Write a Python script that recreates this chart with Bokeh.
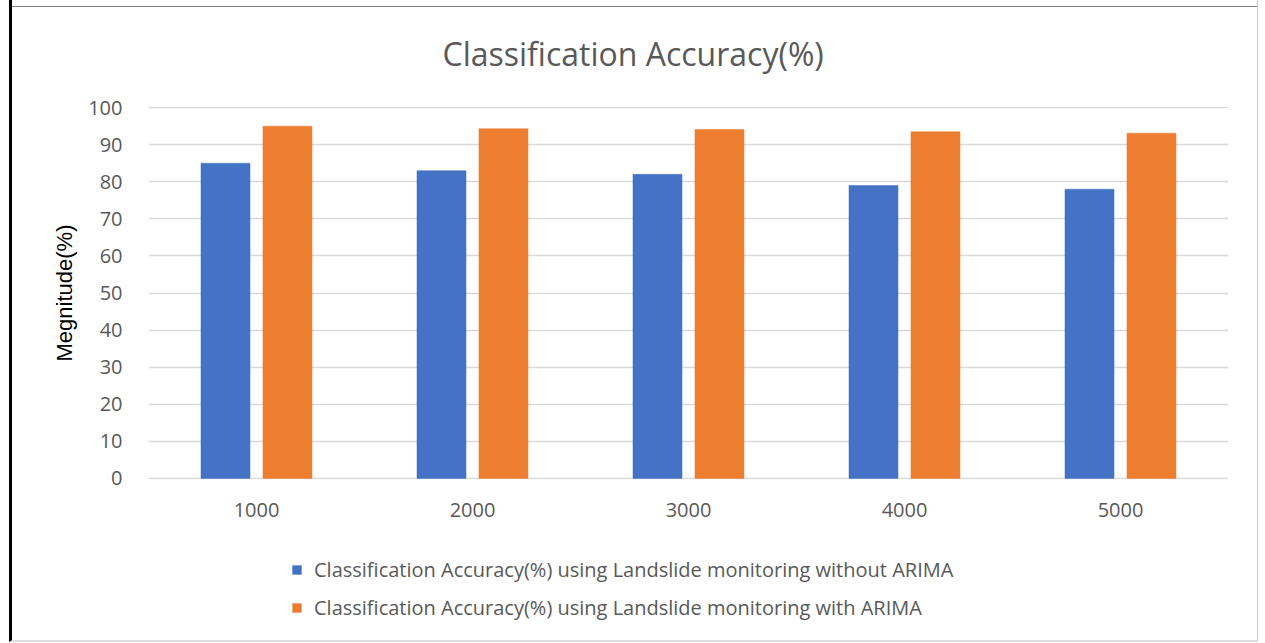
from bokeh.plotting import figure
from bokeh.models import FactorRange, Range1d, FixedTicker, Legend, LegendItem, ColumnDataSource
from bokeh.layouts import column
from bokeh.transform import dodge
from bokeh.embed import file_html
from bokeh.resources import INLINE

categories = ["1000", "2000", "3000", "4000", "5000"]
without_arima = [85, 83, 82, 79, 78]
with_arima = [95, 94.3, 94.1, 93.5, 93.1]
y_ticks = [0, 10, 20, 30, 40, 50, 60, 70, 80, 90, 100]
title_text = "Classification Accuracy(%)"
y_label = "Megnitude(%)"
series_names = [
    "Classification Accuracy(%) using Landslide monitoring without ARIMA",
    "Classification Accuracy(%) using Landslide monitoring with ARIMA",
]

BLUE = "#4472C4"
ORANGE = "#ED7D31"
GREY = "#595959"

src = ColumnDataSource(dict(cat=categories, a=without_arima, b=with_arima))
xr = FactorRange(factors=categories, range_padding=0)

# ---------------- main chart ----------------
p = figure(
    x_range=xr,
    y_range=Range1d(-0.3, 100.3),
    frame_width=1080, frame_height=373,
    min_border_left=136, min_border_right=29,
    min_border_top=106, min_border_bottom=55,
    output_backend="svg", toolbar_location=None,
    background_fill_color="white", border_fill_alpha=0,
)
p.outline_line_color = None

p.vbar(x=dodge("cat", -0.1435, range=xr), top="a", bottom=0, width=0.227,
       source=src, fill_color=BLUE, line_color=BLUE, line_width=0.5)
p.vbar(x=dodge("cat", 0.1435, range=xr), top="b", bottom=0, width=0.227,
       source=src, fill_color=ORANGE, line_color=ORANGE, line_width=0.5)

p.title.text = title_text
p.title.align = "left"
p.title.offset = 294
p.title.vertical_align = "top"
p.title.standoff = 60
p.title.text_font = "Open Sans"
p.title.text_font_size = "32px"
p.title.text_font_style = "normal"
p.title.text_color = GREY

p.xgrid.grid_line_color = None
p.ygrid.grid_line_color = "#D9D9D9"
p.ygrid.grid_line_width = 1.5
p.ygrid.ticker = FixedTicker(ticks=y_ticks)

p.yaxis.ticker = FixedTicker(ticks=y_ticks)
p.yaxis.axis_line_color = None
p.yaxis.major_tick_line_color = None
p.yaxis.minor_tick_line_color = None
p.yaxis.major_label_text_font = "Open Sans"
p.yaxis.major_label_text_font_size = "20px"
p.yaxis.major_label_text_color = GREY
p.yaxis.major_label_standoff = 20
p.yaxis.axis_label = y_label
p.yaxis.axis_label_text_font = "Liberation Sans"
p.yaxis.axis_label_text_font_size = "22px"
p.yaxis.axis_label_text_font_style = "normal"
p.yaxis.axis_label_text_color = "#000000"
p.yaxis.axis_label_standoff = 8

p.xaxis.axis_line_color = None
p.xaxis.major_tick_line_color = None
p.xaxis.minor_tick_line_color = None
p.xaxis.major_label_text_font = "Open Sans"
p.xaxis.major_label_text_font_size = "20px"
p.xaxis.major_label_text_color = GREY
p.xaxis.major_label_standoff = 17

# ---------------- legend strip ----------------
# same series drawn into a y window that hides the bars; only the legend shows
p2 = figure(
    width=1245, height=106,
    x_range=xr, y_range=Range1d(200, 300),
    min_border=0, x_axis_location=None, y_axis_location=None,
    output_backend="svg", toolbar_location=None,
    background_fill_alpha=0, border_fill_alpha=0,
)
p2.outline_line_color = None
p2.xgrid.visible = False
p2.ygrid.visible = False
lr1 = p2.vbar(x=dodge("cat", -0.1435, range=xr), top="a", bottom=0, width=0.227,
              source=src, fill_color=BLUE, line_color=BLUE, line_width=0.5)
lr2 = p2.vbar(x=dodge("cat", 0.1435, range=xr), top="b", bottom=0, width=0.227,
              source=src, fill_color=ORANGE, line_color=ORANGE, line_width=0.5)

legend = Legend(
    items=[LegendItem(label=series_names[0], renderers=[lr1]),
           LegendItem(label=series_names[1], renderers=[lr2])],
    location=(143, 19),
    orientation="vertical",
    glyph_width=11, glyph_height=11,
    label_height=24, spacing=11, label_standoff=12,
    padding=0, margin=0,
    border_line_color=None, background_fill_alpha=0,
    label_text_font="Open Sans", label_text_font_size="20px",
    label_text_color=GREY,
)
p2.add_layout(legend, "center")

layout = column(p, p2, spacing=0, styles={
    "margin-left": "9px",
    "margin-top": "0px",
    "border-left": "3px solid #000000",
    "border-right": "1px solid #cccccc",
    "border-bottom": "2px solid #dddddd",
    "background": "linear-gradient(to bottom, #ffffff 0px, #ffffff 6px, #808080 6px, #808080 7px, #ffffff 7px, #ffffff 100%)",
})

open("out.html", "w").write(file_html(layout, INLINE))
